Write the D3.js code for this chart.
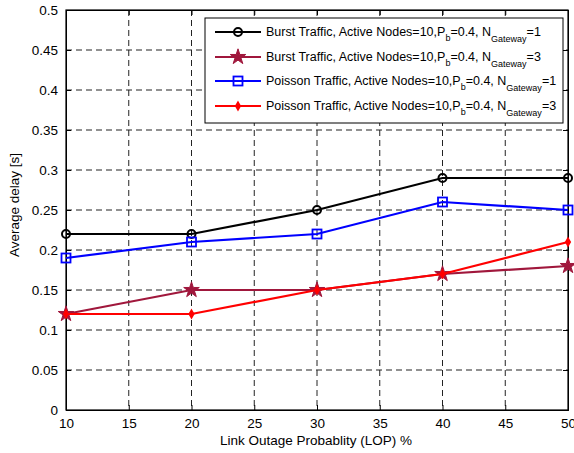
<!DOCTYPE html>
<html>
<head>
<meta charset="utf-8">
<script src="https://d3js.org/d3.v7.min.js"></script>
<style>
  body { margin: 0; background: #fff; }
  svg { font-family: "Liberation Sans", Arial, sans-serif; }
</style>
</head>
<body>
<svg width="574" height="453"></svg>
<script>
// data
const lop = [10, 20, 30, 40, 50];
const burstN1 = [0.22, 0.22, 0.25, 0.29, 0.29];
const burstN3 = [0.12, 0.15, 0.15, 0.17, 0.18];
const poissonN1 = [0.19, 0.21, 0.22, 0.26, 0.25];
const poissonN3 = [0.12, 0.12, 0.15, 0.17, 0.21];
const xTicks = [10, 15, 20, 25, 30, 35, 40, 45, 50];
const yTicks = [0, 0.05, 0.1, 0.15, 0.2, 0.25, 0.3, 0.35, 0.4, 0.45, 0.5];
const legendNames = [
  ['Burst Traffic, Active Nodes=10,P', 'b', '=0.4, N', 'Gateway', '=1'],
  ['Burst Traffic, Active Nodes=10,P', 'b', '=0.4, N', 'Gateway', '=3'],
  ['Poisson Traffic, Active Nodes=10,P', 'b', '=0.4, N', 'Gateway', '=1'],
  ['Poisson Traffic, Active Nodes=10,P', 'b', '=0.4, N', 'Gateway', '=3']
];

const series = [
  { values: burstN1, color: '#000000', marker: 'circle' },
  { values: burstN3, color: '#A0173C', marker: 'star' },
  { values: poissonN1, color: '#0000FF', marker: 'square' },
  { values: poissonN3, color: '#FF0000', marker: 'small' }
];

const svg = d3.select('svg');
const pLeft = 66, pRight = 568, pTop = 10, pBottom = 410;

const x = d3.scaleLinear().domain([10, 50]).range([pLeft, pRight]);
const y = d3.scaleLinear().domain([0, 0.5]).range([pBottom, pTop]);

// grid
const grid = svg.append('g');
grid.selectAll('.gx').data(xTicks.slice(1, -1)).enter().append('line')
  .attr('x1', d => x(d)).attr('x2', d => x(d)).attr('y1', pTop).attr('y2', pBottom)
  .attr('stroke', '#222').attr('stroke-width', 1).attr('stroke-dasharray', '6,4');
grid.selectAll('.gy').data(yTicks.slice(1, -1)).enter().append('line')
  .attr('x1', pLeft).attr('x2', pRight).attr('y1', d => y(d)).attr('y2', d => y(d))
  .attr('stroke', '#222').attr('stroke-width', 1).attr('stroke-dasharray', '6,4');

// axes (inside ticks, MATLAB box)
const xAxis = d3.axisBottom(x).tickValues(xTicks).tickSize(-5).tickPadding(8).tickFormat(d3.format('d'));
const yAxis = d3.axisLeft(y).tickValues(yTicks).tickSize(-5).tickPadding(8).tickFormat(d => d === 0 ? '0' : String(+d.toFixed(2)));

svg.append('g').attr('transform', `translate(0,${pBottom})`).call(xAxis);
svg.append('g').attr('transform', `translate(${pLeft},0)`).call(yAxis);
svg.append('g').attr('transform', `translate(0,${pTop})`)
  .call(d3.axisTop(x).tickValues(xTicks).tickSize(-5).tickFormat(''));
svg.append('g').attr('transform', `translate(${pRight},0)`)
  .call(d3.axisRight(y).tickValues(yTicks).tickSize(-5).tickFormat(''));

svg.selectAll('.domain').attr('stroke', '#000').attr('stroke-width', 1);
svg.selectAll('.tick line').attr('stroke', '#000');
svg.selectAll('.tick text').attr('font-size', 13.5).attr('fill', '#000')
  .attr('font-family', '"Liberation Sans", Arial, sans-serif');

svg.append('rect').attr('x', pLeft).attr('y', pTop).attr('width', pRight - pLeft).attr('height', pBottom - pTop)
  .attr('fill', 'none').attr('stroke', '#000').attr('stroke-width', 1.2);

// axis labels
svg.append('text').attr('x', (pLeft + pRight) / 2 - 1).attr('y', 445).attr('text-anchor', 'middle')
  .attr('font-size', 13.5).text('Link Outage Probablity (LOP) %');
svg.append('text').attr('transform', `translate(19,${(pTop + pBottom) / 2 - 5}) rotate(-90)`)
  .attr('text-anchor', 'middle').attr('font-size', 13.5).text('Average delay [s]');

// markers
function drawMarker(g, type, color, cx, cy) {
  if (type === 'circle') {
    g.append('circle').attr('cx', cx).attr('cy', cy).attr('r', 4)
      .attr('fill', 'none').attr('stroke', color).attr('stroke-width', 2);
  } else if (type === 'square') {
    g.append('rect').attr('x', cx - 4.5).attr('y', cy - 4.5).attr('width', 9).attr('height', 9)
      .attr('fill', 'none').attr('stroke', color).attr('stroke-width', 1.8);
  } else if (type === 'star') {
    g.append('path').attr('transform', `translate(${cx},${cy})`)
      .attr('d', d3.symbol().type(d3.symbolStar).size(75)())
      .attr('fill', color).attr('stroke', color).attr('stroke-width', 1);
  } else {
    g.append('path').attr('transform', `translate(${cx},${cy})`)
      .attr('d', d3.symbol().type(d3.symbolDiamond).size(18)())
      .attr('fill', color).attr('stroke', color).attr('stroke-width', 1.5);
  }
}

const line = d3.line().x(d => x(d[0])).y(d => y(d[1]));
const plot = svg.append('g');
series.forEach(s => {
  const pts = lop.map((v, i) => [v, s.values[i]]);
  plot.append('path').attr('d', line(pts)).attr('fill', 'none')
    .attr('stroke', s.color).attr('stroke-width', 2.2);
  pts.forEach(p => drawMarker(plot, s.marker, s.color, x(p[0]), y(p[1])));
});

// legend
const lg = svg.append('g');
lg.append('rect').attr('x', 205).attr('y', 18).attr('width', 358).attr('height', 105)
  .attr('fill', '#fff').attr('stroke', '#000').attr('stroke-width', 1);
const rowY = [32, 57, 81, 106];
series.forEach((s, i) => {
  const ry = rowY[i];
  lg.append('line').attr('x1', 215).attr('x2', 261).attr('y1', ry).attr('y2', ry)
    .attr('stroke', s.color).attr('stroke-width', 2.2);
  drawMarker(lg, s.marker, s.color, 238, ry);
  const t = lg.append('text').attr('x', 266).attr('y', ry + 4).attr('font-size', 12.5);
  const parts = legendNames[i];
  t.append('tspan').text(parts[0]);
  t.append('tspan').attr('dy', 5).attr('font-size', 9).text(parts[1]);
  t.append('tspan').attr('dy', -5).text(parts[2]);
  t.append('tspan').attr('dy', 6).attr('font-size', 9).text(parts[3]);
  t.append('tspan').attr('dy', -6).text(parts[4]);
});
</script>
</body>
</html>
